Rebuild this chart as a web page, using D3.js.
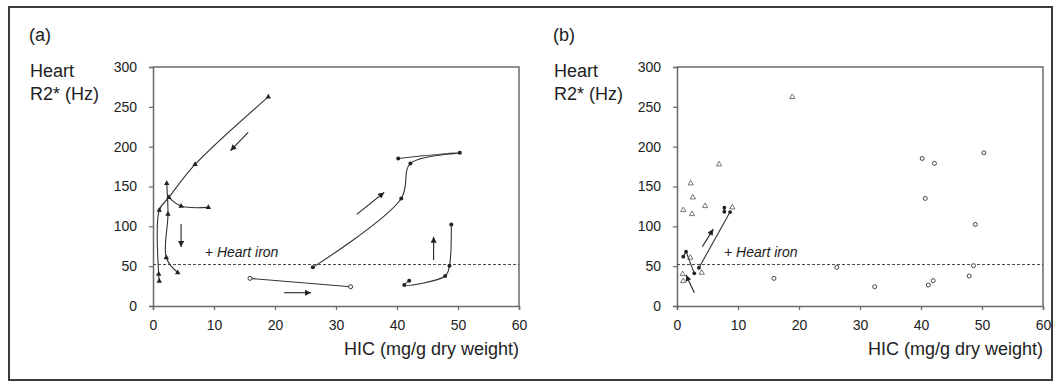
<!DOCTYPE html>
<html>
<head>
<meta charset="utf-8">
<script src="https://cdn.jsdelivr.net/npm/d3@7"></script>
<style>
  body { margin: 0; background: #fff; }
  text { font-family: "Liberation Sans", Arial, Helvetica, sans-serif; fill: #222; }
</style>
</head>
<body>
<div id="chart"></div>
<script>
// tick values
var xTicks = [0, 10, 20, 30, 40, 50, 60];
var yTicks = [0, 50, 100, 150, 200, 250, 300];
var heartIronLevel = 52;

// panel (a) trajectories -- triangles
var triPathA = [[18.9, 262.4], [6.9, 177.7], [2.6, 136.3], [1.03, 120.4], [0.93, 40.1], [1.03, 31.3]];
var triPathB = [[2.25, 153.9], [2.46, 115.4], [2.18, 60.6], [4.05, 41.8]];
var triPathC = [[2.6, 136.3], [4.6, 125.4], [9.07, 123.8]];

// panel (a) trajectories -- circles
var openCirclePath = [[15.9, 34.7], [32.4, 24.2]];
var filledPathA = [[26.2, 48.5], [40.7, 135], [42.2, 179], [50.3, 192.3], [40.2, 185.2]];
var filledPathB = [[42.0, 31.8], [41.2, 26.3], [47.9, 37.6], [48.6, 50.6], [48.9, 102.4]];

// panel (a) direction arrows [from, to]
var arrowsA = [
  [[15.6, 218], [12.7, 195]],
  [[4.6, 103], [4.6, 74]],
  [[21.5, 16.7], [25.9, 16.7]],
  [[33.4, 115], [37.9, 142.6]],
  [[46, 57.7], [46, 87]]
];

// panel (b) new patient paths
var newPathA = [[1.03, 61.9], [1.48, 68.2], [2.84, 41]];
var newPathB = [[3.6, 48], [8.7, 117.9]];
var newPathC = [[7.76, 118.3], [7.76, 123.3]];

var arrowsB = [
  [[2.84, 16.7], [1.48, 38.9]],
  [[4.15, 74.4], [5.95, 96.5]]
];

var svgWidth = 1061;
var svgHeight = 382;

var plotTop = 67;
var plotHeight = 239;
var plotWidth = 366;
var panelLeft = [153, 677];

var svg = d3.select("#chart")
  .append("svg")
  .attr("width", svgWidth)
  .attr("height", svgHeight);

// outer frame
svg.append("rect")
  .attr("x", 9)
  .attr("y", 7)
  .attr("width", 1043)
  .attr("height", 373)
  .attr("fill", "none")
  .attr("stroke", "#3a3a3a")
  .attr("stroke-width", 2);

svg.append("defs")
  .append("marker")
  .attr("id", "arrowhead")
  .attr("viewBox", "0 0 10 10")
  .attr("refX", 10)
  .attr("refY", 5)
  .attr("markerWidth", 7)
  .attr("markerHeight", 6)
  .attr("markerUnits", "userSpaceOnUse")
  .attr("orient", "auto")
  .append("path")
  .attr("d", "M0,0 L10,5 L0,10 z")
  .attr("fill", "#222");

var xScale = d3.scaleLinear().domain([0, 60]).range([0, plotWidth]);
var yScale = d3.scaleLinear().domain([0, 300]).range([plotHeight, 0]);

var curveLine = d3.line()
  .x(d => xScale(d[0]))
  .y(d => yScale(d[1]))
  .curve(d3.curveCatmullRom.alpha(0.5));

var straightLine = d3.line()
  .x(d => xScale(d[0]))
  .y(d => yScale(d[1]));

var triangle = d3.symbol().type(d3.symbolTriangle);

function drawFrame(g, panelLabel, labelX) {
  // axes
  var bottomAxis = d3.axisBottom(xScale).tickValues(xTicks).tickSize(4).tickPadding(10);
  var leftAxis = d3.axisLeft(yScale).tickValues(yTicks).tickSize(4).tickPadding(12);

  var xg = g.append("g")
    .attr("transform", `translate(0, ${plotHeight})`)
    .call(bottomAxis);
  var yg = g.append("g").call(leftAxis);

  [xg, yg].forEach(function(a) {
    a.select(".domain").attr("stroke", "#6a6a6a").attr("stroke-width", 1.5);
    a.selectAll(".tick line").attr("stroke", "#6a6a6a").attr("stroke-width", 1.2);
    a.selectAll(".tick text").style("font-size", "14px").attr("fill", "#222");
  });

  // top and right border of the plot box
  g.append("path")
    .attr("d", `M0,0 H${plotWidth} V${plotHeight}`)
    .attr("fill", "none")
    .attr("stroke", "#6a6a6a")
    .attr("stroke-width", 1.5);

  // heart iron threshold
  g.append("line")
    .attr("x1", 0)
    .attr("x2", plotWidth)
    .attr("y1", yScale(heartIronLevel))
    .attr("y2", yScale(heartIronLevel))
    .attr("stroke", "#444")
    .attr("stroke-width", 1)
    .attr("stroke-dasharray", "3,2");

  g.append("text")
    .attr("x", xScale(labelX))
    .attr("y", yScale(heartIronLevel) - 8)
    .style("font-size", "14px")
    .style("font-style", "italic")
    .text("+ Heart iron");

  // axis titles
  g.append("text")
    .attr("x", plotWidth)
    .attr("y", plotHeight + 49)
    .attr("text-anchor", "end")
    .style("font-size", "18px")
    .text("HIC (mg/g dry weight)");

  g.append("text")
    .attr("x", -123)
    .attr("y", 77 - plotTop)
    .style("font-size", "18px")
    .text("Heart");

  g.append("text")
    .attr("x", -123)
    .attr("y", 100 - plotTop)
    .style("font-size", "18px")
    .text("R2* (Hz)");

  g.append("text")
    .attr("x", -124)
    .attr("y", 41 - plotTop)
    .style("font-size", "18px")
    .text(panelLabel);
}

function drawArrows(g, arrows) {
  g.selectAll(".arrow")
    .data(arrows)
    .enter()
    .append("path")
    .attr("class", "arrow")
    .attr("d", d => straightLine(d))
    .attr("stroke", "#222")
    .attr("stroke-width", 1.1)
    .attr("fill", "none")
    .attr("marker-end", "url(#arrowhead)");
}

// ---------------- panel (a) ----------------
var chartA = svg.append("g")
  .attr("transform", `translate(${panelLeft[0]}, ${plotTop})`);
drawFrame(chartA, "(a)", 8.5);

[triPathA, triPathB, triPathC, filledPathA, filledPathB].forEach(function(p) {
  chartA.append("path")
    .attr("d", curveLine(p))
    .attr("fill", "none")
    .attr("stroke", "#333")
    .attr("stroke-width", 1.1);
});
chartA.append("path")
  .attr("d", straightLine(openCirclePath))
  .attr("fill", "none")
  .attr("stroke", "#333")
  .attr("stroke-width", 1.1);

var triPoints = triPathA.concat(triPathB, triPathC.slice(1));
var filledPoints = filledPathA.concat(filledPathB);

chartA.selectAll(".tri")
  .data(triPoints)
  .enter()
  .append("path")
  .attr("class", "tri")
  .attr("transform", d => `translate(${xScale(d[0])}, ${yScale(d[1])})`)
  .attr("d", triangle.size(13))
  .attr("fill", "#222");

chartA.selectAll(".dot")
  .data(filledPoints)
  .enter()
  .append("circle")
  .attr("class", "dot")
  .attr("cx", d => xScale(d[0]))
  .attr("cy", d => yScale(d[1]))
  .attr("r", 2)
  .attr("fill", "#222");

chartA.selectAll(".odot")
  .data(openCirclePath)
  .enter()
  .append("circle")
  .attr("class", "odot")
  .attr("cx", d => xScale(d[0]))
  .attr("cy", d => yScale(d[1]))
  .attr("r", 2)
  .attr("fill", "#fff")
  .attr("stroke", "#333")
  .attr("stroke-width", 1);

drawArrows(chartA, arrowsA);

// ---------------- panel (b) ----------------
var chartB = svg.append("g")
  .attr("transform", `translate(${panelLeft[1]}, ${plotTop})`);
drawFrame(chartB, "(b)", 7.7);

chartB.selectAll(".tri")
  .data(triPoints)
  .enter()
  .append("path")
  .attr("class", "tri")
  .attr("transform", d => `translate(${xScale(d[0])}, ${yScale(d[1])})`)
  .attr("d", triangle.size(12))
  .attr("fill", "#fff")
  .attr("stroke", "#555")
  .attr("stroke-width", 0.8);

chartB.selectAll(".odot")
  .data(filledPoints.concat(openCirclePath))
  .enter()
  .append("circle")
  .attr("class", "odot")
  .attr("cx", d => xScale(d[0]))
  .attr("cy", d => yScale(d[1]))
  .attr("r", 2)
  .attr("fill", "#fff")
  .attr("stroke", "#444")
  .attr("stroke-width", 1);

[newPathA, newPathB, newPathC].forEach(function(p) {
  chartB.append("path")
    .attr("d", straightLine(p))
    .attr("fill", "none")
    .attr("stroke", "#333")
    .attr("stroke-width", 1.1);
});

chartB.selectAll(".dot")
  .data(newPathA.concat(newPathB, newPathC))
  .enter()
  .append("circle")
  .attr("class", "dot")
  .attr("cx", d => xScale(d[0]))
  .attr("cy", d => yScale(d[1]))
  .attr("r", 1.9)
  .attr("fill", "#222");

drawArrows(chartB, arrowsB);
</script>
</body>
</html>
